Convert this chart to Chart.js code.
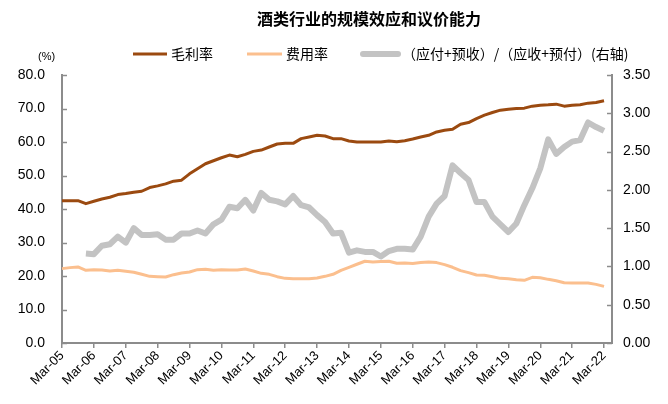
<!DOCTYPE html>
<html>
<head>
<meta charset="utf-8">
<script src="https://cdn.jsdelivr.net/npm/chart.js@4"></script>
<style>
  html, body { margin: 0; padding: 0; background: #fff; }
  #wrap { width: 668px; height: 404px; position: relative; }
</style>
</head>
<body>
<div id="wrap"><canvas id="chart"></canvas></div>
<script>
// ================== DATA ===================
const years = ["05","06","07","08","09","10","11","12","13","14","15","16","17","18","19","20","21","22"];
const quarters = ["Mar", "Jun", "Sep", "Dec"];

// quarterly categories Mar-05 .. Jun-22 (last one is an empty slot at the axis end)
const categories = [];
years.forEach(y => quarters.forEach(q => categories.push(q + "-" + y)));
categories.length = 70;

const grossMargin = [
  42.5, 42.5, 42.5, 41.6, 42.3, 43.0, 43.5, 44.3, 44.6, 45.0,
  45.3, 46.4, 46.9, 47.5, 48.3, 48.6, 50.5, 52.0, 53.5, 54.4,
  55.3, 56.1, 55.6, 56.3, 57.2, 57.6, 58.5, 59.4, 59.6, 59.6,
  61.0, 61.5, 62.0, 61.8, 61.0, 61.0, 60.3, 60.0, 60.0, 60.0,
  60.0, 60.3, 60.1, 60.4, 60.9, 61.5, 62.0, 63.0, 63.5, 63.8,
  65.3, 65.8, 67.0, 68.0, 68.8, 69.5, 69.8, 70.0, 70.1, 70.7,
  71.0, 71.1, 71.3, 70.7, 71.0, 71.1, 71.6, 71.8, 72.3
];

const expenseRatio = [
  22.2, 22.5, 22.7, 21.7, 21.9, 21.8, 21.5, 21.7, 21.4, 21.1,
  20.5, 19.9, 19.8, 19.7, 20.4, 20.9, 21.2, 21.9, 22.0, 21.7,
  21.9, 21.8, 21.8, 22.1, 21.5, 20.8, 20.5, 19.8, 19.3, 19.2,
  19.2, 19.2, 19.4, 19.9, 20.5, 21.7, 22.6, 23.5, 24.4, 24.2,
  24.3, 24.4, 23.8, 23.9, 23.7, 24.0, 24.2, 24.0, 23.4, 22.6,
  21.6, 21.0, 20.3, 20.2, 19.8, 19.3, 19.2, 18.9, 18.7, 19.6,
  19.5, 19.0, 18.6, 18.0, 17.9, 17.9, 17.9, 17.5, 16.9
];

// (应付+预收)/(应收+预付), right axis
const payableRatio = [
  null, null, null, 1.17, 1.16, 1.27, 1.29, 1.39, 1.31, 1.50,
  1.41, 1.41, 1.42, 1.35, 1.35, 1.43, 1.43, 1.47, 1.43, 1.55,
  1.61, 1.78, 1.76, 1.87, 1.73, 1.96, 1.87, 1.85, 1.81, 1.92,
  1.80, 1.77, 1.67, 1.58, 1.43, 1.44, 1.18, 1.21, 1.19, 1.19,
  1.13, 1.20, 1.23, 1.23, 1.22, 1.39, 1.65, 1.82, 1.92, 2.32,
  2.22, 2.13, 1.84, 1.84, 1.65, 1.55, 1.45, 1.56, 1.80, 2.02,
  2.28, 2.66, 2.47, 2.56, 2.63, 2.65, 2.88, 2.82, 2.77
];

const seriesNames = ["毛利率", "费用率", "（应付+预收）/（应收+预付）(右轴)"];
const chartTitle = "酒类行业的规模效应和议价能力";

// ================== STYLE ===================
const AXIS_COLOR = "#8c8c8c";
const NUM_FONT = "'Liberation Sans', Arial, sans-serif";
const CJK_FONT = "'Noto Sans CJK SC', 'Liberation Sans', sans-serif";

// title, legend, unit label and inward y ticks
const decorPlugin = {
  id: "decor",
  afterDraw(chart) {
    const ctx = chart.ctx;
    ctx.save();

    ctx.fillStyle = "#000";
    ctx.font = "bold 16px " + CJK_FONT;
    ctx.textAlign = "center";
    ctx.textBaseline = "middle";
    ctx.fillText(chartTitle, 369, 19);

    ctx.font = "11px " + NUM_FONT;
    ctx.textAlign = "left";
    ctx.fillText("(%)", 38, 57);

    const legend = [
      { x: 133, w: 34 },
      { x: 247, w: 35 },
      { x: 363, w: 35 }
    ];
    ctx.font = "14px " + CJK_FONT;
    chart.data.datasets.forEach((ds, i) => {
      const item = legend[i];
      ctx.strokeStyle = ds.borderColor;
      ctx.lineWidth = ds.borderWidth;
      ctx.lineCap = i === 2 ? "round" : "butt";
      ctx.beginPath();
      ctx.moveTo(item.x, 54);
      ctx.lineTo(item.x + item.w, 54);
      ctx.stroke();
      ctx.fillStyle = "#000";
      ctx.fillText(ds.label, item.x + item.w + 4, 54);
    });

    // inward tick marks on both y axes
    ctx.strokeStyle = AXIS_COLOR;
    ctx.lineWidth = 1.5;
    ctx.lineCap = "butt";
    const area = chart.chartArea;
    ["y", "y1"].forEach(id => {
      const scale = chart.scales[id];
      const x0 = id === "y" ? area.left : area.right;
      const dir = id === "y" ? 1 : -1;
      scale.ticks.forEach(t => {
        const py = Math.round(scale.getPixelForValue(t.value)) + 0.5;
        ctx.beginPath();
        ctx.moveTo(x0, py);
        ctx.lineTo(x0 + dir * 5, py);
        ctx.stroke();
      });
    });

    ctx.restore();
  }
};

new Chart(document.getElementById("chart"), {
  type: "line",
  data: {
    labels: categories,
    datasets: [
      {
        label: seriesNames[0],
        data: grossMargin,
        borderColor: "#9b4a10",
        borderWidth: 3,
        yAxisID: "y"
      },
      {
        label: seriesNames[1],
        data: expenseRatio,
        borderColor: "#fbbf8e",
        borderWidth: 3,
        yAxisID: "y"
      },
      {
        label: seriesNames[2],
        data: payableRatio,
        borderColor: "#c3c3c3",
        borderWidth: 6,
        yAxisID: "y1"
      }
    ]
  },
  options: {
    responsive: true,
    maintainAspectRatio: false,
    animation: false,
    layout: { padding: { top: 75, bottom: 0, left: 0, right: 0 } },
    elements: {
      point: { radius: 0 },
      line: { tension: 0, borderJoinStyle: "round" }
    },
    plugins: {
      legend: { display: false },
      title: { display: false },
      tooltip: { enabled: false }
    },
    scales: {
      x: {
        type: "category",
        afterFit: scale => { scale.height = 61; },
        grid: {
          display: true,
          drawOnChartArea: false,
          drawTicks: true,
          tickLength: 5,
          lineWidth: 1.5,
          color: c => (c.index % 4 === 0 ? AXIS_COLOR : "rgba(0,0,0,0)")
        },
        border: { display: true, color: AXIS_COLOR, width: 2 },
        ticks: {
          autoSkip: false,
          maxRotation: 45,
          minRotation: 45,
          padding: 0,
          color: "#000",
          font: { family: NUM_FONT, size: 13 },
          callback: function (v, i) { return i % 4 === 0 ? this.getLabelForValue(v) : ""; }
        }
      },
      y: {
        position: "left",
        min: 0,
        max: 80,
        afterFit: scale => { scale.width = 62; },
        grid: { display: false, drawTicks: false },
        border: { display: true, color: AXIS_COLOR, width: 2 },
        ticks: {
          stepSize: 10,
          padding: 17,
          color: "#000",
          font: { family: NUM_FONT, size: 14 },
          callback: v => v.toFixed(1)
        }
      },
      y1: {
        position: "right",
        min: 0,
        max: 3.5,
        afterFit: scale => { scale.width = 56; },
        grid: { display: false, drawTicks: false },
        border: { display: true, color: AXIS_COLOR, width: 2 },
        ticks: {
          stepSize: 0.5,
          padding: 11,
          color: "#000",
          font: { family: NUM_FONT, size: 14 },
          callback: v => v.toFixed(2)
        }
      }
    }
  },
  plugins: [decorPlugin]
});
</script>
</body>
</html>
